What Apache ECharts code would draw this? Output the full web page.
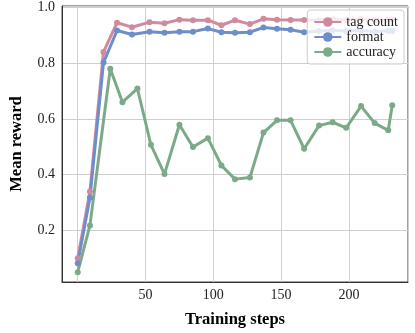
<!DOCTYPE html>
<html>
<head>
<meta charset="utf-8">
<script src="https://cdn.jsdelivr.net/npm/echarts@6/dist/echarts.min.js"></script>
<style>
  html, body { margin: 0; padding: 0; background: #fff; }
  #chart { width: 415px; height: 333px; }
</style>
</head>
<body>
<div id="chart"></div>
<script>
// steps for the two reward curves logged together
const stepsReward = [0, 9, 19, 29, 40, 53, 64, 75, 85, 96, 106, 116, 127, 137, 147, 157, 167, 178, 188, 198, 209, 219, 229, 232]
// steps for the accuracy curve
const stepsAcc = [0, 9, 24, 33, 44, 54, 64, 75, 85, 96, 106, 116, 127, 137, 147, 157, 167, 178, 188, 198, 209, 219, 229, 232]

const tagCount = [0.10, 0.34, 0.84, 0.945, 0.929, 0.947, 0.943, 0.956, 0.954, 0.954, 0.936, 0.954, 0.94, 0.959, 0.956, 0.955, 0.955, 0.955, 0.957, 0.954, 0.958, 0.955, 0.956, 0.957]
const format = [0.082, 0.317, 0.802, 0.917, 0.903, 0.913, 0.909, 0.913, 0.913, 0.924, 0.911, 0.909, 0.911, 0.928, 0.923, 0.92, 0.911, 0.915, 0.918, 0.915, 0.917, 0.913, 0.916, 0.915]
const accuracy = [0.05, 0.218, 0.78, 0.66, 0.709, 0.507, 0.402, 0.579, 0.499, 0.531, 0.433, 0.384, 0.39, 0.551, 0.595, 0.595, 0.493, 0.576, 0.588, 0.568, 0.646, 0.585, 0.559, 0.649]

const seriesNames = ['tag count', 'format', 'accuracy']
const colors = ['#d08a9d', '#6e8ecb', '#7caa89']

const serif = '"Liberation Serif", "DejaVu Serif", serif'

const pairs = (xs, ys) => xs.map((x, i) => [x, ys[i]])

const chart = echarts.init(document.getElementById('chart'))

const mkSeries = (name, data, i) => ({
  name: name,
  type: 'line',
  data: data,
  symbol: 'circle',
  symbolSize: 6,
  color: colors[i],
  lineStyle: { width: 3, color: colors[i] },
  itemStyle: { color: colors[i] },
  animation: false
})

const option = {
  backgroundColor: '#fff',
  textStyle: { fontFamily: serif },
  grid: {
    left: 52,
    right: 7,
    top: 6,
    bottom: 41,
    show: true,
    borderColor: '#444',
    borderWidth: 1
  },
  legend: {
    orient: 'vertical',
    right: 11,
    top: 10,
    padding: [5, 6, 5, 6],
    itemWidth: 27,
    itemHeight: 12,
    itemGap: 1,
    backgroundColor: 'rgba(255,255,255,0.8)',
    borderColor: '#ccc',
    borderWidth: 1,
    borderRadius: 3,
    textStyle: { fontFamily: serif, fontSize: 14, color: '#222' },
    data: seriesNames
  },
  xAxis: {
    type: 'value',
    min: -11.6,
    max: 243.6,
    name: 'Training steps',
    nameLocation: 'middle',
    nameGap: 29,
    nameTextStyle: { fontFamily: serif, fontSize: 16.5, fontWeight: 'bold', color: '#000' },
    axisLine: { onZero: false, lineStyle: { color: '#333', width: 1 } },
    axisTick: { show: false },
    axisLabel: {
      fontFamily: serif, fontSize: 14, color: '#222', margin: 6,
      formatter: v => (v > 0 && Math.abs(v % 50) < 1e-6) ? String(v) : ''
    },
    splitLine: { show: true, lineStyle: { color: '#cfcfcf', width: 1 } }
  },
  yAxis: {
    type: 'value',
    min: 0.015,
    max: 1.005,
    name: 'Mean reward',
    nameLocation: 'middle',
    nameGap: 37,
    nameTextStyle: { fontFamily: serif, fontSize: 16.5, fontWeight: 'bold', color: '#000' },
    axisLine: { show: true, onZero: false, lineStyle: { color: '#333', width: 1 } },
    axisTick: { show: false },
    axisLabel: {
      fontFamily: serif, fontSize: 14, color: '#222', margin: 7,
      formatter: v => Math.abs(v * 5 - Math.round(v * 5)) < 1e-6 ? v.toFixed(1) : ''
    },
    splitLine: { show: true, lineStyle: { color: '#cfcfcf', width: 1 } }
  },
  series: [
    mkSeries(seriesNames[0], pairs(stepsReward, tagCount), 0),
    mkSeries(seriesNames[1], pairs(stepsReward, format), 1),
    mkSeries(seriesNames[2], pairs(stepsAcc, accuracy), 2)
  ]
}

chart.setOption(option)
</script>
</body>
</html>
